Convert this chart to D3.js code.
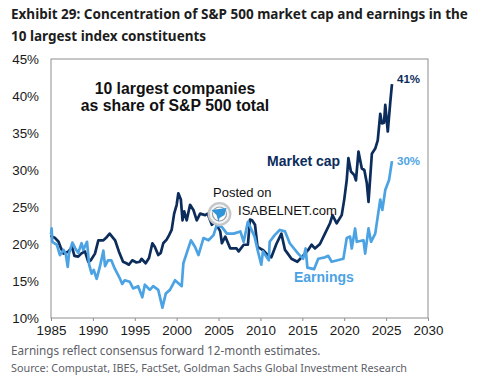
<!DOCTYPE html>
<html>
<head>
<meta charset="utf-8">
<script src="https://cdn.jsdelivr.net/npm/d3@7"></script>
<style>
html, body { margin: 0; padding: 0; background: #fff; }
svg { display: block; }
</style>
</head>
<body>
<svg id="chart" width="480" height="380"></svg>
<script>
var capYears = [1985,1985.1,1985.5,1985.9,1986.2,1986.5,1987.1,1987.5,1987.8,1988.25,1988.6,1989.05,1989.45,1989.75,1990.25,1990.65,1991.25,1991.55,1992,1992.65,1993.1,1993.6,1994,1994.3,1994.7,1995.2,1995.6,1995.8,1996.3,1996.7,1997.1,1997.4,1997.8,1998.1,1998.4,1998.8,1999.1,1999.4,1999.7,2000,2000.2,2000.5,2000.7,2000.9,2001.2,2001.6,2002,2002.4,2002.8,2003.4,2003.7,2004.2,2004.6,2005.2,2005.4,2005.8,2006.4,2007.15,2007.4,2008,2008.5,2008.75,2009,2009.35,2009.65,2010.1,2010.3,2010.8,2011.3,2011.9,2012.5,2012.93,2013.2,2013.7,2014.4,2015,2015.7,2016.1,2016.5,2017.1,2017.7,2018.3,2018.6,2019.1,2019.7,2020,2020.3,2020.5,2020.8,2021.2,2021.4,2021.7,2022.1,2022.4,2022.7,2022.9,2023.3,2023.7,2024,2024.3,2024.5,2024.75,2024.9,2025.2,2025.5,2025.7];
var capValues = [21.2,21,20.8,20.3,19.4,18.7,19,19.6,18.4,18.3,18.7,19,17.6,17.8,18.7,20.5,20.5,20.8,21.4,20.5,19,17.6,17.4,17.2,17.8,17.5,17.6,18,17.4,18.1,20.1,19.6,18.5,18.8,20.1,20.6,21.2,21.9,24.1,25.3,26.85,26,23.2,24.4,23.2,25.3,24.6,23.2,24.1,23.9,24.1,22.6,23,21.7,20.1,21,19.4,19.4,19,19.9,19.9,23.3,23.2,22.6,19.6,19.3,19.2,18.6,18.2,20,21.4,19.2,18.8,18,17.6,18.3,19.2,19.9,19.4,20,21.4,22.8,23.9,22.8,23.9,26,28.65,31.6,29.8,29.3,28.6,32.5,30.2,30,28.2,25.7,32.2,32.9,34,37.6,36.3,36.4,38.8,35.2,39.2,41.6];

var earnYears = [1985,1985.08,1985.15,1985.7,1986.07,1986.5,1986.75,1987,1987.15,1987.55,1987.9,1988.25,1988.65,1988.85,1989.3,1989.55,1989.85,1990.1,1990.45,1990.85,1991.25,1991.45,1991.8,1992.2,1992.6,1993.2,1993.5,1993.8,1994.4,1994.8,1995.4,1995.9,1996.2,1996.8,1997.2,1997.8,1998.3,1998.7,1999.2,1999.8,2000.6,2000.8,2001.7,2002.2,2002.6,2003.2,2003.8,2004.4,2004.8,2005.4,2006,2006.8,2007.6,2008,2008.5,2009.3,2009.7,2010.1,2010.3,2011,2011.1,2011.7,2012.3,2012.93,2013.5,2014.5,2015.1,2015.4,2015.6,2016.4,2016.9,2017.7,2018.1,2018.5,2019.9,2020.3,2020.7,2020.9,2021.3,2021.5,2022.3,2022.5,2022.9,2023.2,2023.7,2024.3,2024.55,2024.9,2025.35,2025.7];
var earnValues = [21.3,22.1,20.3,19.9,18.5,19.2,18.7,16.9,18.7,20.2,19.4,18.8,20.1,19.2,20.3,17.2,16,16.5,15.3,17,19.1,17,17.8,17.8,16.7,15.4,14.6,15.1,14.9,14,14.3,12.8,14.5,13.8,14.3,13.8,11.4,13.3,13.8,15.1,14.3,17.4,20.5,19.6,18.5,20.8,20.5,21.2,22.6,22.3,21.4,21.4,21.7,20.3,23,21,19,17.2,19,17.8,20.3,21.2,21.9,21.7,20.1,18.7,18,19.4,16.8,16.6,18,18.2,18.4,17.6,18,20.8,21,19.4,22.1,20.3,20.5,18.7,22.1,20.3,21.4,26,24.6,27.3,28.65,31.2];

var xTicks = [1985,1990,1995,2000,2005,2010,2015,2020,2025,2030];
var yTicks = [10,15,20,25,30,35,40,45];

var left = 51, right = 428, top_ = 59, bottom = 318;
var capColor = "#0c2c5c";
var earnColor = "#4ca3e4";
var axisColor = "#8e8e8e";

var svg = d3.select("#chart");

var x = d3.scaleLinear().domain([1985, 2030]).range([left, right]);
var y = d3.scaleLinear().domain([10, 45]).range([bottom, top_]);

// plot frame
svg.append("rect")
    .attr("x", left).attr("y", top_)
    .attr("width", right - left).attr("height", bottom - top_)
    .attr("fill", "none").attr("stroke", axisColor).attr("stroke-width", 1);

var xAxis = d3.axisBottom(x).tickValues(xTicks).tickFormat(d3.format("d")).tickSize(3).tickPadding(4);
var yAxis = d3.axisLeft(y).tickValues(yTicks).tickFormat(function(d) { return d + "%"; }).tickSize(0).tickPadding(12);

[svg.append("g").attr("transform", "translate(0," + bottom + ")").call(xAxis),
 svg.append("g").attr("transform", "translate(" + left + ",0)").call(yAxis)].forEach(function(g) {
    g.select(".domain").remove();
    g.selectAll(".tick line").attr("stroke", axisColor);
    g.selectAll(".tick text")
        .attr("fill", "#1a1a1a")
        .style("font-family", "'Liberation Sans'")
        .style("font-size", "13.4px");
});

var line = d3.line()
    .x(function(d) { return x(d[0]); })
    .y(function(d) { return y(d[1]); });

svg.append("path")
    .attr("d", line(d3.zip(capYears, capValues)))
    .attr("fill", "none").attr("stroke", capColor)
    .attr("stroke-width", 2.7).attr("stroke-linejoin", "round");

svg.append("path")
    .attr("d", line(d3.zip(earnYears, earnValues)))
    .attr("fill", "none").attr("stroke", earnColor)
    .attr("stroke-width", 2.7).attr("stroke-linejoin", "round");

function label(txt, px, py, size, weight, color, family, anchor) {
    svg.append("text")
        .attr("x", px).attr("y", py)
        .attr("text-anchor", anchor || "start")
        .attr("fill", color)
        .style("font-family", family || "'Liberation Sans'")
        .style("font-size", size + "px")
        .style("font-weight", weight)
        .text(txt);
}

label("Exhibit 29: Concentration of S&P 500 market cap and earnings in the", 11, 19, 13.5, 700, "#1d1d1d", "'Noto Sans'");
label("10 largest index constituents", 11, 41, 13.5, 700, "#1d1d1d", "'Noto Sans'");

label("10 largest companies", 175, 94, 15.8, 700, "#111", null, "middle");
label("as share of S&P 500 total", 175, 111, 15.8, 700, "#111", null, "middle");
label("Market cap", 267, 166, 14, 700, capColor);
label("41%", 397, 83, 11.5, 700, capColor);
label("30%", 397, 165, 11.5, 700, earnColor);
label("Earnings", 294, 282, 14, 700, earnColor);

label("Earnings reflect consensus forward 12-month estimates.", 11, 355, 11.7, 400, "#5d6068", "'Noto Sans'");
label("Source: Compustat, IBES, FactSet, Goldman Sachs Global Investment Research", 11, 372, 10.8, 400, "#5d6068", "'Noto Sans'");

// watermark
label("Posted on", 213, 197, 13, 400, "#111");
label("ISABELNET.com", 238, 215, 13.1, 400, "#111");
var logo = svg.append("g").attr("transform", "translate(219.5,214)");
logo.append("circle").attr("r", 10.8).attr("fill", "#f4f5f6").attr("stroke", "#c4c7ca").attr("stroke-width", 2.2);
logo.append("circle").attr("r", 7).attr("fill", "#fff").attr("stroke", "#9a9fa4").attr("stroke-width", 1.2);
logo.append("path").attr("d", "M-8,-4 L7,-6 L5,1 L0,4 L-1,8 L-3,1 Z").attr("fill", "#2f95d8");
</script>
</body>
</html>
